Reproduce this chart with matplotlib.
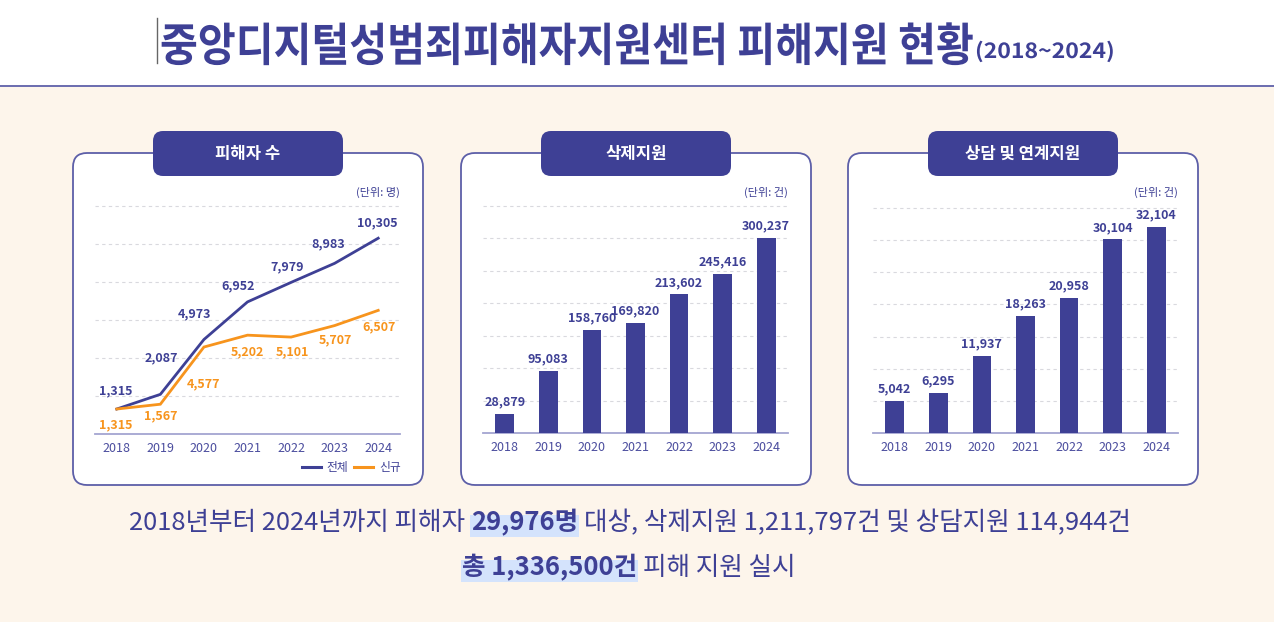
import matplotlib

matplotlib.use("Agg")
import matplotlib.pyplot as plt
from matplotlib.lines import Line2D
from matplotlib.patches import FancyBboxPatch, Rectangle
from matplotlib.patheffects import AbstractPathEffect
from matplotlib.transforms import Affine2D

plt.rcParams["font.family"] = ["Noto Sans CJK KR", "DejaVu Sans"]

NAVY = "#3E4095"
ORANGE = "#F7941D"
CREAM = "#FDF5EB"
BORDER = "#5D5FA8"
AXIS_LINE = "#A4A5D1"
GRID = "#D9D9DE"
HILITE = "#D4E3FC"

TITLE_MAIN = "중앙디지털성범죄피해자지원센터 피해지원 현황"
TITLE_SUB = "(2018~2024)"
PANEL_TITLES = ["피해자 수", "삭제지원", "상담 및 연계지원"]
PANEL_UNITS = ["(단위: 명)", "(단위: 건)", "(단위: 건)"]
YEARS = ["2018", "2019", "2020", "2021", "2022", "2023", "2024"]
VICTIMS_TOTAL = [1315, 2087, 4973, 6952, 7979, 8983, 10305]
VICTIMS_NEW = [1315, 1567, 4577, 5202, 5101, 5707, 6507]
DELETION = [28879, 95083, 158760, 169820, 213602, 245416, 300237]
COUNSEL = [5042, 6295, 11937, 18263, 20958, 30104, 32104]
LEGEND_LABELS = ["전체", "신규"]

SUMMARY_1 = [("2018년부터 2024년까지 피해자", False),
             ("29,976명", True),
             ("대상, 삭제지원 1,211,797건 및 상담지원 114,944건", False)]
SUMMARY_2 = [("총 1,336,500건", True), ("피해 지원 실시", False)]

# label nudges for the line chart (pixels)
TOTAL_OFFS = [(-1, 18), (1, 37), (-9, 26), (-9, 16), (-4, 16), (-6, 19), (-1, 15)]
NEW_OFFS = [(-1, -16), (0, -12), (0, -37), (0, -17), (1, -15), (1, -14), (1, -16)]

W, H = 1274, 622


class Condense(AbstractPathEffect):
  """Squeeze glyphs horizontally around the text anchor."""

  def __init__(self, sx):
    super().__init__()
    self._sx = sx

  def draw_path(self, renderer, gc, tpath, affine, rgbFace=None):
    renderer.draw_path(gc, tpath, Affine2D().scale(self._sx, 1) + affine, rgbFace)


def px_axes(fig, left, right, top, bottom):
  return fig.add_axes([left / W, 1 - bottom / H, (right - left) / W, (bottom - top) / H])


def style_axes(ax, ytop, gstep):
  ax.set_facecolor("none")
  ax.set_xlim(-0.5, len(YEARS) - 0.5)
  ax.set_ylim(0, ytop)
  ax.set_xticks(range(len(YEARS)))
  ax.set_xticklabels(YEARS)
  ax.set_yticks([gstep * k for k in range(1, int(ytop // gstep) + 1)])
  ax.set_yticklabels([])
  ax.tick_params(axis="y", length=0)
  ax.tick_params(axis="x", length=0, pad=6, labelsize=9, labelcolor="#4B4D9E")
  ax.yaxis.grid(True, linestyle=(0, (3, 3)), color=GRID, linewidth=0.8)
  ax.set_axisbelow(True)
  for s in ("top", "right", "left"):
    ax.spines[s].set_visible(False)
  ax.spines["bottom"].set_color(AXIS_LINE)
  ax.spines["bottom"].set_linewidth(1.3)


fig = plt.figure(figsize=(W / 100, H / 100), dpi=100, facecolor=CREAM)
bg = fig.add_axes([0, 0, 1, 1])
bg.set_xlim(0, W)
bg.set_ylim(H, 0)
bg.axis("off")

# header band
bg.add_patch(Rectangle((0, 0), W, 85, facecolor="white", edgecolor="none"))
bg.plot([0, W], [85.5, 85.5], color="#5F61AA", lw=1.3)
bg.plot([157, 157], [18, 63], color="#666666", lw=1)

renderer = fig.canvas.get_renderer()
t_main = bg.text(160, 61, TITLE_MAIN, fontsize=33, fontweight="heavy", color=NAVY,
                 ha="left", va="baseline")
sx = 813 / t_main.get_window_extent(renderer).width
t_main.set_path_effects([Condense(sx)])
t_sub = bg.text(975, 58, TITLE_SUB, fontsize=15, fontweight="bold", color=NAVY,
                ha="left", va="baseline")
t_sub.set_path_effects([Condense(140 / t_sub.get_window_extent(renderer).width)])

# panels
panel_x = [(73, 423), (461, 811), (848, 1198)]
pill_x = [(153, 343), (541, 731), (928, 1118)]
for (x0, x1), (p0, p1), name in zip(panel_x, pill_x, PANEL_TITLES):
  bg.add_patch(FancyBboxPatch((x0, 153), x1 - x0, 332, boxstyle="round,pad=0,rounding_size=14",
                              facecolor="white", edgecolor=BORDER, lw=1.3))
  bg.add_patch(FancyBboxPatch((p0, 131), p1 - p0, 45, boxstyle="round,pad=0,rounding_size=10",
                              facecolor=NAVY, edgecolor="none"))
  bg.text((p0 + p1) / 2, 154, name, fontsize=12, fontweight="bold", color="white",
          ha="center", va="center")

x = list(range(len(YEARS)))

# panel 1: victims
ax1 = px_axes(fig, 95, 400, 190, 434)
style_axes(ax1, 12842, 2000)
ax1.plot(x, VICTIMS_TOTAL, color=NAVY, lw=2, solid_joinstyle="miter", zorder=3)
ax1.plot(x, VICTIMS_NEW, color=ORANGE, lw=2, solid_joinstyle="miter", zorder=3)
for i, (vt, vn) in enumerate(zip(VICTIMS_TOTAL, VICTIMS_NEW)):
  ax1.annotate(f"{vt:,}", (i, vt), xytext=TOTAL_OFFS[i], textcoords="offset pixels",
               ha="center", va="center", fontsize=9, fontweight="bold", color=NAVY)
  ax1.annotate(f"{vn:,}", (i, vn), xytext=NEW_OFFS[i], textcoords="offset pixels",
               ha="center", va="center", fontsize=9, fontweight="bold", color=ORANGE)
handles = [Line2D([], [], color=NAVY, lw=2.2), Line2D([], [], color=ORANGE, lw=2.2)]
ax1.legend(handles, LEGEND_LABELS, loc="center right", bbox_to_anchor=(401 / W, 1 - 468 / H),
           bbox_transform=fig.transFigure, ncol=2, frameon=False, fontsize=8.5,
           handlelength=1.6, handletextpad=0.5, columnspacing=0.5, borderpad=0,
           borderaxespad=0, labelcolor=NAVY)

# panels 2 and 3: bars
for (left, right), vals, ytop, gstep in (((483, 788), DELETION, 374670, 50000),
                                          ((873, 1178), COUNSEL, 37800, 5000)):
  ax = px_axes(fig, left, right, 190, 433)
  style_axes(ax, ytop, gstep)
  ax.bar(x, vals, width=0.43, color=NAVY, zorder=3)
  for i, v in enumerate(vals):
    ax.annotate(f"{v:,}", (i, v), xytext=(0, 4), textcoords="offset points",
                ha="center", va="bottom", fontsize=9, fontweight="bold", color=NAVY)

for (x0, x1), unit in zip([(95, 400), (483, 788), (873, 1178)], PANEL_UNITS):
  bg.text(x1, 192, unit, fontsize=8, color=NAVY, ha="right", va="center")


# summary lines with mixed weights and highlights
def measure(s, size, bold):
  t = bg.text(0, 0, s, fontsize=size, fontweight="bold" if bold else "normal")
  w = t.get_window_extent(renderer).width
  t.remove()
  return w


def line_width(runs, size):
  gap = measure("가 가", size, False) - measure("가가", size, False)
  return sum(measure(s, size, b) for s, b in runs) + gap * (len(runs) - 1), gap


size = 17.5
w1, _ = line_width(SUMMARY_1, size)
size *= 1006 / w1


def draw_runs(runs, cx, base):
  total, gap = line_width(runs, size)
  xpos = cx - total / 2
  for s, b in runs:
    w = measure(s, size, b)
    if b:
      bg.add_patch(Rectangle((xpos - 1, base - 15), w + 2, 22, facecolor=HILITE,
                             edgecolor="none", zorder=1))
    bg.text(xpos, base, s, fontsize=size, fontweight="heavy" if b else "normal", color=NAVY,
            ha="left", va="baseline", zorder=2)
    xpos += w + gap


draw_runs(SUMMARY_1, 630, 530)
draw_runs(SUMMARY_2, 629, 575)

fig.savefig("out.png", dpi=100, facecolor=CREAM)
